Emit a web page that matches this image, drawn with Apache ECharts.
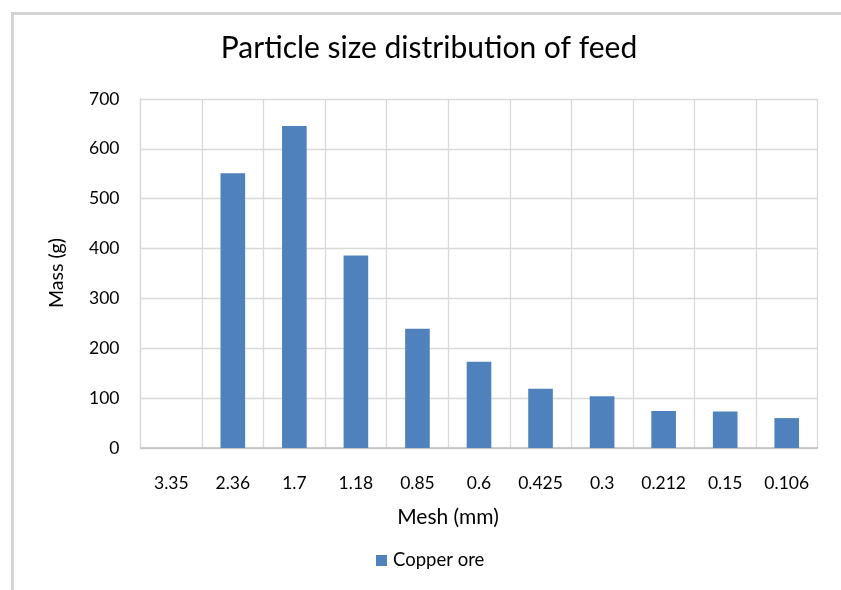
<!DOCTYPE html>
<html>
<head>
<meta charset="utf-8">
<script src="https://cdn.jsdelivr.net/npm/echarts@6/dist/echarts.min.js"></script>
<style>
  html, body { margin: 0; padding: 0; background: #ffffff; }
  #chart { width: 841px; height: 590px; }
</style>
</head>
<body>
<div id="chart"></div>
<script>
// Sieve openings (mm) and retained mass (g)
const meshSizes = ['3.35', '2.36', '1.7', '1.18', '0.85', '0.6', '0.425', '0.3', '0.212', '0.15', '0.106'];
const copperOreMass = [0, 551, 646, 386, 239, 173, 119, 104, 74, 73, 60];
const massTicks = [0, 100, 200, 300, 400, 500, 600, 700];

const FONT = 'Lato';
const chart = echarts.init(document.getElementById('chart'), null, { renderer: 'canvas' });

chart.setOption({
  animation: false,
  backgroundColor: '#ffffff',
  textStyle: { fontFamily: FONT },
  graphic: [{
    type: 'rect',
    left: 10, top: 11,
    shape: { width: 900, height: 700 },
    style: { fill: 'none', stroke: '#d4d4d4', lineWidth: 3 },
    silent: true
  }, {
    // vertical axis title
    type: 'text',
    x: 57, y: 273,
    rotation: Math.PI / 2,
    style: {
      text: 'Mass (g)',
      fontFamily: FONT, fontSize: 19.5, fill: '#000000',
      align: 'center', verticalAlign: 'middle'
    },
    silent: true
  }],
  title: {
    text: 'Particle size distribution of feed',
    left: 424, top: 28, textAlign: 'center',
    textStyle: { fontFamily: FONT, fontSize: 30, fontWeight: 'normal', color: '#000000' }
  },
  legend: {
    data: ['Copper ore'],
    left: 371, top: 546,
    icon: 'rect', itemWidth: 11, itemHeight: 11, itemGap: 4,
    textStyle: { fontFamily: FONT, fontSize: 18.5, color: '#000000', padding: [0, 0, 0, 1] }
  },
  grid: { left: 140.5, right: 23.5, top: 99, bottom: 142 },
  xAxis: {
    type: 'category',
    data: meshSizes,
    name: 'Mesh (mm)',
    nameLocation: 'middle',
    nameGap: 59,
    nameTextStyle: { fontFamily: FONT, fontSize: 21, color: '#000000', padding: [0, 62, 0, 0] },
    axisLine: { lineStyle: { color: '#bfbfbf', width: 1.5 } },
    axisTick: { show: false },
    axisLabel: { fontFamily: FONT, fontSize: 17.5, color: '#000000', margin: 26, interval: 0 },
    splitLine: { show: true, lineStyle: { color: '#d9d9d9', width: 1.3 } }
  },
  yAxis: {
    type: 'value',
    min: massTicks[0], max: massTicks[massTicks.length - 1], interval: 100,
    axisLine: { show: true, lineStyle: { color: '#d9d9d9', width: 1.3 } },
    axisTick: { show: false },
    axisLabel: { fontFamily: FONT, fontSize: 17.5, color: '#000000', margin: 21 },
    splitLine: { show: true, lineStyle: { color: '#d9d9d9', width: 1.3 } }
  },
  series: [{
    name: 'Copper ore',
    type: 'bar',
    data: copperOreMass,
    barWidth: '40%',
    itemStyle: { color: '#4f81bd', borderWidth: 0 }
  }]
});
</script>
</body>
</html>
